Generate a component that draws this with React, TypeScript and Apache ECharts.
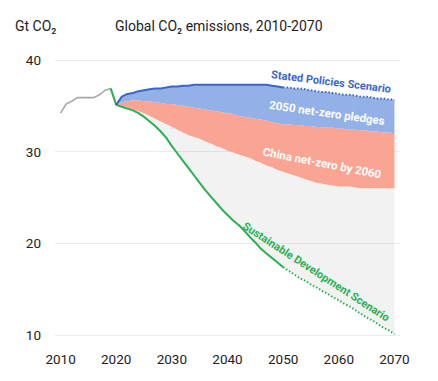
import React, { useEffect, useRef } from "react";
import * as echarts from "echarts";

// Historical emissions (Gt CO2)
const histYears = [2010, 2011, 2012, 2013, 2014, 2015, 2016, 2017, 2018, 2019];
const histValues = [34.2, 35.2, 35.5, 35.9, 35.9, 35.9, 35.9, 36.2, 36.7, 36.9];

// Projection years 2020-2070
const projYears = Array.from({ length: 51 }, (_, i) => 2020 + i);

// Stated Policies Scenario
const stepsValues = [
  35.1, 36.0, 36.3, 36.4, 36.6, 36.7, 36.8, 36.9, 36.9, 37.0,
  37.1, 37.1, 37.2, 37.2, 37.3, 37.3, 37.3, 37.3, 37.3, 37.3,
  37.3, 37.3, 37.3, 37.3, 37.3, 37.3, 37.3, 37.3, 37.2, 37.1,
  37.0, 37.0, 36.9, 36.9, 36.8, 36.7, 36.6, 36.5, 36.5, 36.4,
  36.3, 36.2, 36.2, 36.1, 36.0, 36.0, 35.9, 35.8, 35.8, 35.7,
  35.7,
];

// 2050 net-zero pledges (lower edge of blue band)
const pledgesValues = [
  35.1, 35.4, 35.5, 35.6, 35.6, 35.5, 35.5, 35.4, 35.3, 35.2,
  35.2, 35.1, 35.0, 34.9, 34.8, 34.7, 34.6, 34.5, 34.4, 34.3,
  34.2, 34.1, 33.9, 33.8, 33.7, 33.6, 33.5, 33.4, 33.2, 33.1,
  33.0, 33.0, 32.9, 32.9, 32.8, 32.8, 32.7, 32.7, 32.6, 32.6,
  32.5, 32.5, 32.4, 32.4, 32.3, 32.3, 32.2, 32.2, 32.1, 32.1,
  32.0,
];

// China net-zero by 2060 (lower edge of red band)
const chinaValues = [
  35.1, 35.0, 34.8, 34.6, 34.4, 34.2, 33.9, 33.6, 33.3, 33.0,
  32.7, 32.4, 32.1, 31.8, 31.6, 31.4, 31.1, 30.9, 30.6, 30.4,
  30.1, 29.9, 29.7, 29.5, 29.3, 29.0, 28.8, 28.5, 28.3, 28.0,
  27.8, 27.6, 27.4, 27.2, 27.0, 26.8, 26.6, 26.5, 26.4, 26.3,
  26.2, 26.2, 26.2, 26.1, 26.0, 26.0, 26.0, 26.0, 26.0, 26.0,
  26.0,
];

// Sustainable Development Scenario
const sdsValues = [
  35.1, 34.9, 34.7, 34.5, 34.2, 33.8, 33.3, 32.8, 32.2, 31.5,
  30.6, 29.8, 29.0, 28.2, 27.4, 26.6, 25.8, 25.1, 24.4, 23.7,
  23.1, 22.5, 22.0, 21.4, 20.7, 20.1, 19.4, 18.9, 18.4, 17.9,
  17.4, 17.0, 16.6, 16.2, 15.9, 15.5, 15.2, 14.8, 14.5, 14.1,
  13.8, 13.4, 13.1, 12.7, 12.3, 11.9, 11.6, 11.2, 10.8, 10.5,
  10.1,
];

// Axis categories (one per year, padded by a year on each side) and labels
const axisYears = Array.from({ length: 63 }, (_, i) => 2009 + i);
const xTicks = [2010, 2020, 2030, 2040, 2050, 2060, 2070];
const yTicks = [10, 20, 30, 40];
const splitYear = 2050;

const BLUE = "#3a67c6";
const GREEN = "#29b052";
const FONT = "Roboto, 'Noto Sans', sans-serif";

export default function App() {
  const ref = useRef<HTMLDivElement>(null);
  useEffect(() => {
    if (!ref.current) return;
    const chart = echarts.init(ref.current, undefined, { renderer: "svg" });

    // Align a (years, values) list onto the category axis.
    const align = (ys: number[], vs: (number | null)[], keep?: (y: number) => boolean) =>
      axisYears.map((y) => {
        const i = ys.indexOf(y);
        if (i < 0 || (keep && !keep(y))) return "-";
        const v = vs[i];
        return v == null ? "-" : v;
      });
    const diff = (a: number[], b: number[]) =>
      a.map((v, i) => Math.max(0, +(v - b[i]).toFixed(3)));

    const bandBase = {
      type: "line",
      stack: "bands",
      stackStrategy: "all",
      symbol: "none",
      showSymbol: false,
      silent: true,
      lineStyle: { width: 0 },
    };

    const sdsSolidYears = [histYears[histYears.length - 1], ...projYears];
    const sdsSolidValues = [histValues[histValues.length - 1], ...sdsValues];

    chart.setOption({
      animation: false,
      grid: { left: 55, right: 38, top: 60, bottom: 46 },
      xAxis: {
        type: "category",
        data: axisYears.map(String),
        boundaryGap: false,
        axisLine: { show: false },
        axisTick: { show: false },
        splitLine: { show: false },
        axisLabel: {
          margin: 17,
          color: "#222",
          fontSize: 13.5,
          fontFamily: FONT,
          interval: (idx: number, val: string) => xTicks.includes(Number(val)),
        },
      },
      yAxis: {
        type: "value",
        min: yTicks[0],
        max: yTicks[yTicks.length - 1],
        interval: 10,
        axisLine: { show: false },
        axisTick: { show: false },
        splitLine: { show: true, lineStyle: { color: "#ebebeb", width: 1 } },
        axisLabel: { margin: 14, color: "#222", fontSize: 13.5, fontFamily: FONT },
      },
      series: [
        { ...bandBase, name: "base", data: align(projYears, sdsValues) },
        {
          ...bandBase,
          name: "gap",
          data: align(projYears, diff(chinaValues, sdsValues)),
          areaStyle: { color: "rgba(0,0,0,0.05)", opacity: 1 },
        },
        {
          ...bandBase,
          name: "China net-zero by 2060",
          data: align(projYears, diff(pledgesValues, chinaValues)),
          areaStyle: { color: "#faa593", opacity: 1 },
        },
        {
          ...bandBase,
          name: "2050 net-zero pledges",
          data: align(projYears, diff(stepsValues, pledgesValues)),
          areaStyle: { color: "#93b0e7", opacity: 1 },
        },
        {
          type: "line",
          name: "Historical",
          data: align(histYears, histValues),
          symbol: "none",
          lineStyle: { color: "#a9a9a9", width: 1.6 },
          z: 5,
        },
        {
          type: "line",
          name: "SDS",
          data: align(sdsSolidYears, sdsSolidValues, (y) => y <= splitYear),
          symbol: "none",
          lineStyle: { color: GREEN, width: 2 },
          z: 6,
        },
        {
          type: "line",
          name: "SDS dotted",
          data: align(projYears, sdsValues, (y) => y >= splitYear),
          symbol: "none",
          lineStyle: { color: GREEN, width: 2, type: [1.5, 2] },
          z: 6,
        },
        {
          type: "line",
          name: "STEPS",
          data: align(projYears, stepsValues, (y) => y <= splitYear),
          symbol: "none",
          lineStyle: { color: BLUE, width: 2 },
          z: 7,
        },
        {
          type: "line",
          name: "STEPS dotted",
          data: align(projYears, stepsValues, (y) => y >= splitYear),
          symbol: "none",
          lineStyle: { color: BLUE, width: 2, type: [1.5, 2] },
          z: 7,
        },
      ],
      graphic: [
        {
          type: "text",
          left: 15,
          top: 19,
          style: { text: "Gt CO₂", fill: "#222", font: `14px ${FONT}` },
        },
        {
          type: "text",
          left: 115,
          top: 19,
          style: {
            text: "Global CO₂ emissions, 2010-2070",
            fill: "#222",
            font: `14px ${FONT}`,
          },
        },
        {
          type: "text",
          x: 331,
          y: 82,
          rotation: (-7 * Math.PI) / 180,
          z: 20,
          style: {
            text: "Stated Policies Scenario",
            fill: BLUE,
            font: `bold 11px ${FONT}`,
            align: "center",
            verticalAlign: "middle",
          },
        },
        {
          type: "text",
          x: 327,
          y: 113,
          rotation: (-8 * Math.PI) / 180,
          z: 20,
          style: {
            text: "2050 net-zero pledges",
            fill: "#fff",
            font: `bold 11.5px ${FONT}`,
            align: "center",
            verticalAlign: "middle",
          },
        },
        {
          type: "text",
          x: 322,
          y: 163,
          rotation: (-11 * Math.PI) / 180,
          z: 20,
          style: {
            text: "China net-zero by 2060",
            fill: "#fff",
            font: `bold 11.5px ${FONT}`,
            align: "center",
            verticalAlign: "middle",
          },
        },
        {
          type: "text",
          x: 316,
          y: 272,
          rotation: (-33 * Math.PI) / 180,
          z: 20,
          style: {
            text: "Sustainable Development Scenario",
            fill: GREEN,
            font: `bold 11px ${FONT}`,
            align: "center",
            verticalAlign: "middle",
          },
        },
      ],
    });
    return () => chart.dispose();
  }, []);
  return (
    <div
      ref={ref}
      style={{ position: "absolute", left: 0, top: 0, width: 438, height: 381 }}
    />
  );
}
